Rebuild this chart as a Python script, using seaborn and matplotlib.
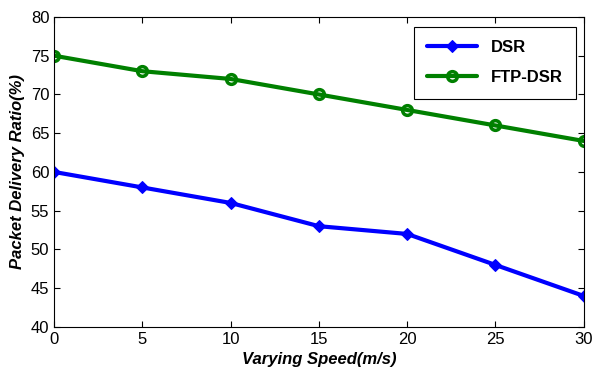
import matplotlib
matplotlib.use('Agg')
import matplotlib.pyplot as plt
import pandas as pd
import seaborn as sns

speed = [0, 5, 10, 15, 20, 25, 30]
dsr = [60, 58, 56, 53, 52, 48, 44]
ftp_dsr = [75, 73, 72, 70, 68, 66, 64]


def main():
    sns.set_style('ticks')
    plt.rcParams['font.family'] = ['Liberation Sans', 'DejaVu Sans']
    plt.rcParams['xtick.direction'] = 'in'
    plt.rcParams['ytick.direction'] = 'in'
    plt.rcParams['text.color'] = 'black'
    plt.rcParams['axes.labelcolor'] = 'black'
    plt.rcParams['xtick.color'] = 'black'
    plt.rcParams['ytick.color'] = 'black'
    plt.rcParams['axes.edgecolor'] = 'black'

    data = pd.DataFrame({'speed': speed, 'DSR': dsr, 'FTP-DSR': ftp_dsr})

    fig = plt.figure(figsize=(5.95, 3.69), dpi=100)
    ax = fig.add_axes([0.091, 0.114, 0.890, 0.840])

    sns.lineplot(data=data, x='speed', y='DSR', ax=ax, color='#0000ff',
                 linewidth=3, marker='D', markersize=6, markeredgecolor='#0000ff',
                 label='DSR')
    sns.lineplot(data=data, x='speed', y='FTP-DSR', ax=ax, color='#008000',
                 linewidth=3, marker='o', markersize=7, markerfacecolor='none',
                 markeredgewidth=2.5, markeredgecolor='#008000', label='FTP-DSR')

    ax.set_xlim(0, 30)
    ax.set_ylim(40, 80)
    ax.set_xticks(speed)
    ax.set_yticks(range(40, 81, 5))
    ax.tick_params(labelsize=12, length=4, width=0.8, top=True, right=True)
    for s in ax.spines.values():
        s.set_visible(True)
        s.set_linewidth(0.8)

    ax.set_xlabel('Varying Speed(m/s)', fontsize=12, fontweight='bold', style='italic')
    ax.set_ylabel('Packet Delivery Ratio(%)', fontsize=12, fontweight='bold', style='italic')

    leg = ax.legend(loc='upper right', fontsize=12, frameon=True, fancybox=False,
                    edgecolor='black', handlelength=3, borderpad=0.8,
                    labelspacing=0.9, borderaxespad=0,
                    bbox_to_anchor=(0.985, 0.968))
    leg.get_frame().set_linewidth(0.8)
    leg.get_frame().set_alpha(1)
    for t in leg.get_texts():
        t.set_fontweight('bold')

    plt.savefig('out.png', dpi=100)


if __name__ == '__main__':
    main()
